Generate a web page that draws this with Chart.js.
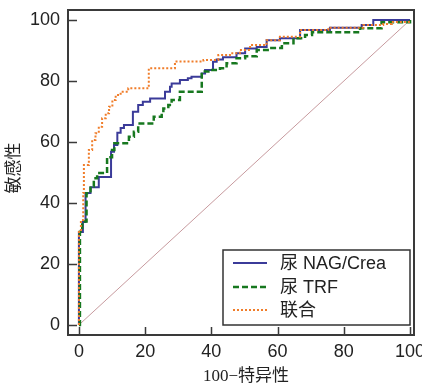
<!DOCTYPE html>
<html>
<head>
<meta charset="utf-8">
<script src="https://cdn.jsdelivr.net/npm/chart.js@4.4.1/dist/chart.umd.min.js"></script>
<style>
  html, body { margin: 0; padding: 0; background: #fff; }
  #wrap { width: 422px; height: 389px; }
</style>
</head>
<body>
<div id="wrap"><canvas id="roc" width="422" height="389"></canvas></div>
<script>
// ROC data (x = 100-特异性, y = 敏感性), step points
const nagX = [0, 0, 1.2, 2.0, 3.5, 6.0, 9.7, 10.6, 11.6, 12.6, 13.6, 16.3, 17.9, 19.3, 21.5, 26.0, 27.5, 28.0, 30.5, 32.9, 34.0, 37.1, 38.1, 40.5, 41.6, 43.5, 47.6, 50.2, 53.7, 56.7, 60.7, 66.8, 75.8, 85.4, 88.9, 100];
const nagY = [0, 30.5, 33.8, 43.3, 45.2, 48.5, 56.8, 59.0, 63.0, 64.6, 65.6, 69.9, 72.1, 73.2, 74.3, 76.5, 78.1, 79.2, 80.3, 80.9, 81.4, 82.5, 83.6, 86.3, 87.1, 87.8, 89.1, 90.7, 91.2, 93.4, 94.0, 96.7, 97.5, 98.4, 100, 100];

const trfX = [0, 0.3, 1.0, 2.3, 3.5, 4.5, 5.5, 8.5, 10.0, 10.7, 15.1, 16.6, 17.9, 22.6, 25.0, 25.5, 27.0, 28.0, 30.5, 37.1, 39.1, 42.6, 44.6, 47.6, 50.2, 53.7, 57.7, 61.3, 64.8, 68.3, 70.4, 84.9, 91.4, 100];
const trfY = [0, 30.6, 33.9, 43.2, 45.4, 48.1, 49.8, 55.0, 57.4, 59.6, 61.7, 63.4, 66.1, 68.3, 69.4, 71.0, 72.1, 73.8, 76.5, 83.1, 83.6, 84.2, 85.8, 87.5, 88.1, 90.2, 90.8, 92.4, 94.0, 95.1, 96.0, 97.3, 99.3, 100];

const combX = [0, 0, 0.6, 1.3, 1.5, 3.0, 4.0, 5.0, 6.0, 7.0, 8.1, 9.1, 10.1, 11.1, 12.6, 14.9, 21.1, 29.0, 37.6, 42.1, 45.6, 48.6, 51.7, 56.7, 60.7, 66.8, 75.3, 85.9, 91.9, 94.5, 100];
const combY = [0, 30.5, 34.4, 43.3, 52.5, 57.4, 60.7, 62.9, 65.0, 67.8, 69.4, 71.6, 73.8, 75.4, 76.5, 77.6, 84.2, 86.4, 86.9, 88.5, 89.1, 90.2, 91.8, 93.4, 94.5, 96.7, 97.5, 98.4, 98.7, 99.4, 100];

const refX = [0, 100];
const refY = [0, 100];

const seriesLabels = ['尿 NAG/Crea', '尿 TRF', '联合'];
const tickValues = [0, 20, 40, 60, 80, 100];
const xTitle = '100−特异性';
const yTitle = '敏感性';

function toPoints(xs, ys) {
  return xs.map((x, i) => ({ x: x, y: ys[i] }));
}

const tickFont = { family: "'Liberation Sans', Arial, sans-serif", size: 18 };
const titleFont = "17px 'Liberation Serif', 'Noto Sans CJK SC', serif";

// scales must not push the chart area around
function zeroPad(s) {
  s.paddingTop = 0;
  s.paddingBottom = 0;
  s.paddingLeft = 0;
  s.paddingRight = 0;
}

// frame, inward ticks, axis titles and legend box
const framePlugin = {
  id: 'frame',
  afterDraw(chart) {
    const ctx = chart.ctx;
    const a = chart.chartArea;
    const xs = chart.scales.x;
    const ys = chart.scales.y;
    ctx.save();
    ctx.strokeStyle = '#3a3a3a';
    ctx.lineWidth = 2;
    ctx.strokeRect(a.left, a.top, a.right - a.left, a.bottom - a.top);

    ctx.lineWidth = 1.5;
    ctx.beginPath();
    tickValues.forEach(v => {
      const px = Math.round(xs.getPixelForValue(v)) + 0.5;
      ctx.moveTo(px, a.bottom);
      ctx.lineTo(px, a.bottom - 8);
      const py = Math.round(ys.getPixelForValue(v)) + 0.5;
      ctx.moveTo(a.left, py);
      ctx.lineTo(a.left + 9, py);
    });
    ctx.stroke();

    // axis titles
    ctx.fillStyle = '#222';
    ctx.font = titleFont;
    ctx.textAlign = 'center';
    ctx.textBaseline = 'middle';
    ctx.fillText(xTitle, 246, 377);
    ctx.save();
    ctx.translate(15, 168);
    ctx.rotate(-Math.PI / 2);
    ctx.fillText(yTitle, 0, 0);
    ctx.restore();

    // legend
    const bx = 223, by = 250, bw = 187, bh = 75;
    ctx.fillStyle = '#fff';
    ctx.fillRect(bx, by, bw, bh);
    ctx.strokeStyle = '#333';
    ctx.lineWidth = 1.5;
    ctx.strokeRect(bx, by, bw, bh);
    const rows = [263, 287, 310];
    chart.data.datasets.slice(0, 3).forEach((ds, i) => {
      const ry = rows[i];
      ctx.strokeStyle = ds.borderColor;
      ctx.lineWidth = ds.borderWidth;
      ctx.setLineDash(ds.borderDash || []);
      ctx.beginPath();
      ctx.moveTo(233, ry);
      ctx.lineTo(267, ry);
      ctx.stroke();
      ctx.setLineDash([]);
      ctx.fillStyle = '#222';
      ctx.font = "18px 'Liberation Sans', Arial, 'Noto Sans CJK SC', sans-serif";
      ctx.textAlign = 'left';
      ctx.textBaseline = 'middle';
      ctx.fillText(seriesLabels[i], 280, ry + 1);
    });
    ctx.restore();
  }
};

new Chart(document.getElementById('roc'), {
  type: 'line',
  data: {
    datasets: [
      { label: seriesLabels[0], data: toPoints(nagX, nagY), borderColor: '#3b3b99', borderWidth: 2, stepped: true, order: 3 },
      { label: seriesLabels[1], data: toPoints(trfX, trfY), borderColor: '#17781f', borderWidth: 2.5, borderDash: [6, 3], stepped: true, order: 2 },
      { label: seriesLabels[2], data: toPoints(combX, combY), borderColor: '#f07d2a', borderWidth: 2, borderDash: [2, 2], stepped: true, order: 1 },
      { label: 'ref', data: toPoints(refX, refY), borderColor: '#c79a9e', borderWidth: 1, order: 4 }
    ]
  },
  options: {
    responsive: false,
    animation: false,
    elements: { point: { radius: 0 }, line: { tension: 0, fill: false } },
    layout: { padding: { top: 10, right: 8, left: 0, bottom: 0 } },
    plugins: { legend: { display: false }, tooltip: { enabled: false } },
    scales: {
      x: {
        type: 'linear',
        min: -3.3,
        max: 101.2,
        afterBuildTicks: s => { s.ticks = tickValues.map(v => ({ value: v })); },
        afterFit: s => { s.height = 54; zeroPad(s); },
        grid: { display: false, drawTicks: false },
        border: { display: false },
        ticks: { color: '#222', font: tickFont, padding: 6, maxRotation: 0 }
      },
      y: {
        type: 'linear',
        min: -3.3,
        max: 103.3,
        afterBuildTicks: s => { s.ticks = tickValues.map(v => ({ value: v })); },
        afterFit: s => { s.width = 68; zeroPad(s); },
        grid: { display: false, drawTicks: false },
        border: { display: false },
        ticks: { color: '#222', font: tickFont, padding: 8 }
      }
    }
  },
  plugins: [framePlugin]
});
</script>
</body>
</html>
